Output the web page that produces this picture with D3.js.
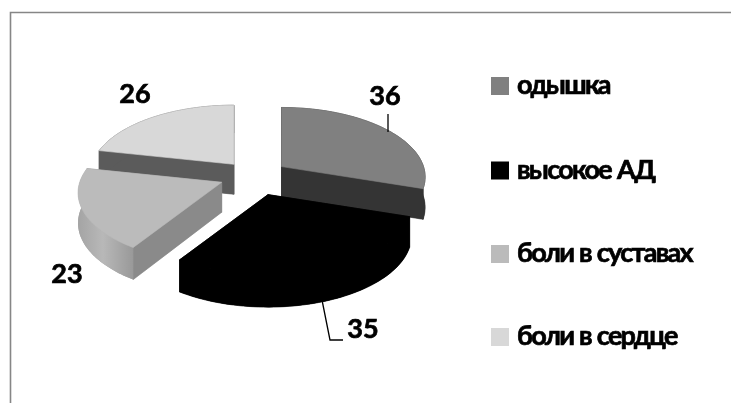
<!DOCTYPE html>
<html><head><meta charset="utf-8">
<script src="https://cdn.jsdelivr.net/npm/d3@7"></script>
<style>html,body{margin:0;padding:0;background:#fff}svg{display:block;filter:blur(.35px)}text{font-family:Lato,"Open Sans",sans-serif;font-weight:700;fill:#000;stroke:#000;stroke-width:.7px}</style>
</head><body><div id="c"></div>
<script>
const categories=["одышка","высокое АД","боли в суставах","боли в сердце"];
const values=[36,35,23,26];
const topColors=["#808080","#000000","#bbbbbb","#d8d8d8"];
const sideColors=["#343434","#000000","#8a8a8a","#5b5b5b"];
const explode=[34,42,35,32];
const labelPos=[[385,105],[363,338],[67,283],[135,103]];
const legendY=[86,170.5,254,337];
const W=731,H=403,cx=254,cy=176,rx=142,ry=68,p=.15,k=.47,depth=30;
const svg=d3.select("#c").append("svg").attr("width",W).attr("height",H);
const defs=svg.append("defs");
const g=defs.append("linearGradient").attr("id","rim3").attr("x1","0").attr("x2","1").attr("y1","0").attr("y2","0");
[[0,"#a4a4a4"],[.45,"#b8b8b8"],[1,"#999999"]].forEach(s=>g.append("stop").attr("offset",s[0]).attr("stop-color",s[1]));
svg.append("path").attr("d",`M10.5 ${H} V12.5 H${W}`).attr("fill","none").attr("stroke","#868686").attr("stroke-width",1.6);
const pie=d3.pie().sort(null).value(d=>d)(values);
const line=d3.line().x(d=>d[0]).y(d=>d[1]);
const proj=(ax,ay,t)=>{const s=1/(1+p*Math.cos(t));return {x:ax+rx*Math.sin(t)*s,y:ay-ry*Math.cos(t)*s,d:depth*Math.sqrt(s)};};
const apex=(d,i)=>{const m=(d.startAngle+d.endAngle)/2;return [cx+explode[i]*Math.sin(m),cy-explode[i]*k*Math.cos(m)];};
const poly=pts=>line(pts)+"Z";
[3,0,1,2].forEach(i=>{
  const d=pie[i],[ax,ay]=apex(d,i);
  const ts=d3.range(0,61).map(j=>d.startAngle+(d.endAngle-d.startAngle)*j/60);
  const arc=ts.map(t=>proj(ax,ay,t));
  const sl=svg.append("g").attr("stroke-width",.6).attr("stroke-linejoin","round");
  const face=t=>{const q=proj(ax,ay,t);return poly([[ax,ay],[q.x,q.y],[q.x,q.y+q.d],[ax,ay+depth]]);};
  const side=sideColors[i];
  sl.append("path").attr("d",poly([[ax,ay+depth]].concat(arc.map(q=>[q.x,q.y+q.d])))).attr("fill",i===2?"#a8a8a8":side);
  sl.append("path").attr("d",face(d.endAngle)).attr("fill",side).attr("stroke",side);
  sl.append("path").attr("d",face(d.startAngle)).attr("fill",side).attr("stroke",side);
  sl.append("path").attr("d",poly(arc.map(q=>[q.x,q.y]).concat(arc.slice().reverse().map(q=>[q.x,q.y+q.d]))))
    .attr("fill",i===2?"url(#rim3)":side).attr("stroke",i===2?"none":side);
  sl.append("path").attr("d",poly([[ax,ay]].concat(arc.map(q=>[q.x,q.y])))).attr("fill",topColors[i]).attr("stroke",topColors[i]);
});
const lead=[[[388,114],[388,132]],[[322,300],[330,340],[343,340]]];
lead.forEach(l=>svg.append("path").attr("d",line(l)).attr("fill","none").attr("stroke","#000").attr("stroke-width",1.3));
svg.selectAll("text.v").data(values).join("text").attr("class","v")
  .attr("x",(d,i)=>labelPos[i][0]).attr("y",(d,i)=>labelPos[i][1])
  .attr("text-anchor","middle").attr("font-size",27).text(d=>d);
const lg=svg.selectAll("g.l").data(categories).join("g").attr("class","l");
lg.append("rect").attr("x",491).attr("y",(d,i)=>legendY[i]-9).attr("width",18).attr("height",18).attr("fill",(d,i)=>topColors[i]);
lg.append("text").attr("x",517).attr("y",(d,i)=>legendY[i]+8).attr("font-size",27).attr("letter-spacing","-1.7px").attr("word-spacing","1px").text(d=>d);
</script></body></html>
